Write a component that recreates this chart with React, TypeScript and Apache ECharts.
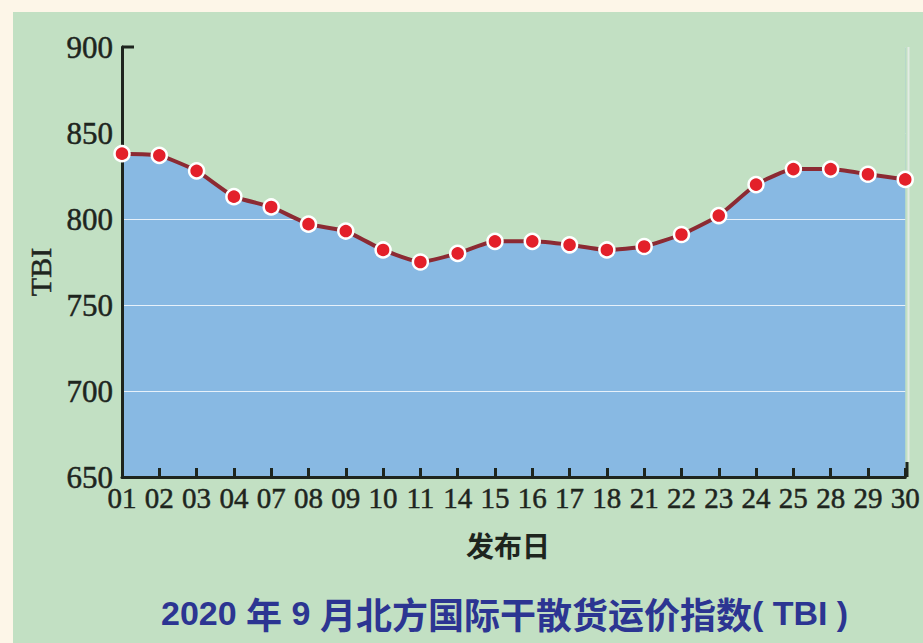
import React, { useEffect, useRef } from "react";
import * as echarts from "echarts";

const days = ["01", "02", "03", "04", "07", "08", "09", "10", "11", "14", "15", "16", "17", "18", "21", "22", "23", "24", "25", "28", "29", "30"];
const tbi = [838, 837, 828, 813, 807, 797, 793, 782, 775, 780, 787, 787, 785, 782, 784, 791, 802, 820, 829, 829, 826, 823];
const yMin = 650;
const yMax = 900;
const yStep = 50;
const titleParts = [
  ["l", "2020 "],
  ["c", "年"],
  ["l", " 9 "],
  ["c", "月北方国际干散货运价指数"],
  ["l", "( TBI )"],
];
const xName = "发布日";
const yName = "TBI";

const GREEN = "#c2e0c3";
const BLUE = "#88b9e3";
const DARK = "#1e251e";
const TITLE = "#2c3592";
const SERIF = '"Liberation Serif", "Times New Roman", serif';

export default function App() {
  const ref = useRef<HTMLDivElement>(null);
  useEffect(() => {
    document.body.style.margin = "0";
    const chart = echarts.init(ref.current!, null, { renderer: "svg" });
    const titleRich = titleParts.map(([k, t]) => `{${k}|${t}}`).join("");
    chart.setOption({
      animation: false,
      backgroundColor: "transparent",
      title: {
        text: titleRich,
        left: 143,
        top: 578,
        textStyle: {
          rich: {
            l: {
              color: TITLE,
              fontSize: 34,
              fontWeight: "bold",
              fontFamily: '"Liberation Sans", Arial, sans-serif',
            },
            c: {
              color: TITLE,
              fontSize: 36,
              fontWeight: "bold",
              fontFamily: '"Noto Sans CJK SC", sans-serif',
            },
          },
        },
      },
      grid: {
        left: 109,
        top: 35,
        width: 785,
        height: 430,
        show: true,
        backgroundColor: BLUE,
        borderWidth: 0,
      },
      xAxis: {
        type: "category",
        data: days,
        boundaryGap: false,
        z: 3,
        axisLine: { lineStyle: { color: DARK, width: 3 } },
        axisTick: { inside: true, length: 9, lineStyle: { color: DARK, width: 3 } },
        axisLabel: {
          color: DARK,
          fontSize: 29,
          fontFamily: SERIF,
          margin: 6,
          interval: 0,
          textBorderColor: DARK,
          textBorderWidth: 0.5,
        },
        splitLine: { show: false },
      },
      yAxis: [
        {
          type: "value",
          min: yMin,
          max: yMax,
          interval: yStep,
          position: "left",
          z: 0,
          axisLine: { show: false },
          axisTick: { show: false },
          axisLabel: { show: false },
          splitLine: { lineStyle: { color: "rgba(255,255,255,0.8)", width: 1 } },
        },
        {
          type: "value",
          min: yMin,
          max: yMax,
          interval: yStep,
          position: "left",
          z: 4,
          axisLine: { show: true, lineStyle: { color: DARK, width: 3 } },
          axisTick: { show: false },
          splitLine: { show: false },
          axisLabel: {
            color: DARK,
            fontSize: 31,
            fontFamily: SERIF,
            margin: 9,
            textBorderColor: DARK,
            textBorderWidth: 0.5,
          },
        },
      ],
      graphic: [
        { type: "line", z: 10, shape: { x1: 109, y1: 35, x2: 121, y2: 35 }, style: { stroke: DARK, lineWidth: 3 } },
        { type: "line", z: 10, shape: { x1: 894, y1: 450, x2: 894, y2: 465 }, style: { stroke: DARK, lineWidth: 3 } },
        { type: "line", z: 3, shape: { x1: 895.5, y1: 35, x2: 895.5, y2: 450 }, style: { stroke: "rgba(235,238,235,0.8)", lineWidth: 2 } },
        {
          type: "text",
          x: 27,
          y: 260,
          rotation: Math.PI / 2,
          style: {
            text: yName,
            fill: DARK,
            fontSize: 30,
            fontFamily: SERIF,
            align: "center",
            verticalAlign: "middle",
            stroke: DARK,
            lineWidth: 0.5,
          },
        },
        {
          type: "text",
          x: 495,
          y: 533,
          style: {
            text: xName,
            fill: DARK,
            fontSize: 28,
            fontWeight: "bold",
            fontFamily: '"Noto Sans CJK SC", sans-serif',
            align: "center",
            verticalAlign: "middle",
          },
        },
      ],
      series: [
        {
          type: "line",
          data: tbi,
          yAxisIndex: 0,
          symbol: "none",
          smooth: 0.15,
          silent: true,
          z: 2,
          lineStyle: { width: 0 },
          areaStyle: { color: GREEN, opacity: 1, origin: "end" },
        },
        {
          type: "line",
          data: tbi,
          yAxisIndex: 0,
          smooth: 0.15,
          z: 5,
          symbol: "circle",
          symbolSize: 15,
          lineStyle: { color: "#8c2a33", width: 4 },
          itemStyle: { color: "#e3202a", borderColor: "#ffffff", borderWidth: 2.5 },
        },
      ],
    });
    return () => chart.dispose();
  }, []);
  return (
    <div style={{ position: "absolute", left: 0, top: 0, width: 923, height: 643, background: "#fdf6e8", overflow: "hidden" }}>
      <div ref={ref} style={{ position: "absolute", left: 13, top: 12, width: 910, height: 631, background: GREEN }} />
    </div>
  );
}
